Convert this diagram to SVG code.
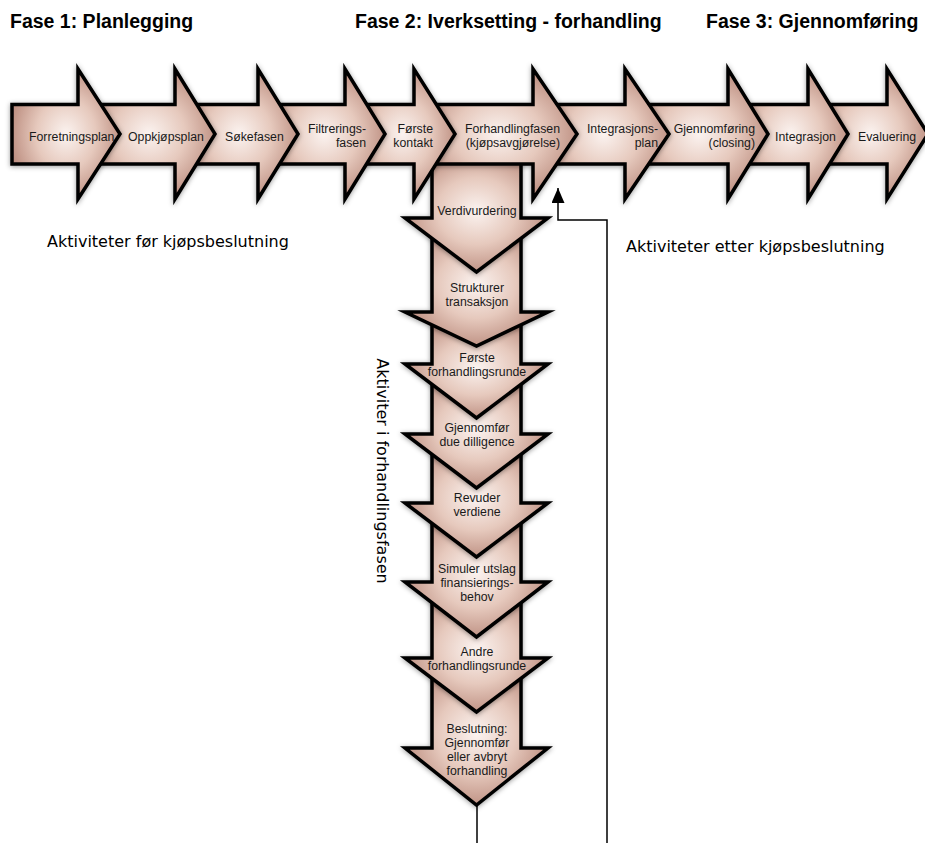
<svg xmlns="http://www.w3.org/2000/svg" width="925" height="843" viewBox="0 0 925 843">
  <defs>
    <radialGradient id="fillGrad" cx="0.5" cy="0.5" r="0.55">
      <stop offset="0" stop-color="#fbf3f0"/>
      <stop offset="0.5" stop-color="#e6c9bd"/>
      <stop offset="1" stop-color="#b8887a"/>
    </radialGradient>
    <filter id="glow" x="-10%" y="-10%" width="120%" height="120%">
      <feDropShadow dx="0" dy="1" stdDeviation="2.5" flood-color="#000" flood-opacity="0.4"/>
    </filter>
    <marker id="arrowUp" markerWidth="15" markerHeight="13" refX="15" refY="6.5" orient="auto" markerUnits="userSpaceOnUse">
      <path d="M0,0 L15,6.5 L0,13 Z" fill="#000"/>
    </marker>
  </defs>
  <style>
    .shape { fill: url(#fillGrad); stroke: #000; stroke-width: 3.5; stroke-linejoin: miter; stroke-miterlimit: 6; filter: url(#glow); }
    .lbl { font-family: "Liberation Sans", Arial, sans-serif; font-size: 12.3px; fill: #1a1a1a; }
    .mid { text-anchor: middle; }
    .end { text-anchor: end; }
    .phase { font-family: "Liberation Sans", Arial, sans-serif; font-size: 19.5px; font-weight: bold; fill: #000; }
    .note { font-family: "DejaVu Sans", "Lucida Grande", sans-serif; font-size: 16px; fill: #000; }
    .conn { fill: none; stroke: #000; stroke-width: 1.5; }
  </style>

  <rect width="925" height="843" fill="#fff"/>

  <!-- phase headings -->
  <text class="phase" x="10" y="28">Fase 1: Planlegging</text>
  <text class="phase" x="355" y="28">Fase 2: Iverksetting - forhandling</text>
  <text class="phase" x="706" y="28">Fase 3: Gjennomføring</text>

  <!-- side notes -->
  <text class="note" x="47" y="247">Aktiviteter før kjøpsbeslutning</text>
  <text class="note" x="626" y="252">Aktiviteter etter kjøpsbeslutning</text>
  <text class="note mid" transform="translate(377,471) rotate(90)">Aktiviter i forhandlingsfasen</text>

  <!-- vertical column: negotiation steps, drawn bottom-up so each head overlaps the next shaft -->
  <g id="beslutning">
    <path class="shape" d="M432,663 L521,663 L521,748 L548,748 L476.5,805 L405,748 L432,748 Z"/>
    <text class="lbl mid" x="477" y="733">Beslutning:</text>
    <text class="lbl mid" x="477" y="747">Gjennomfør</text>
    <text class="lbl mid" x="477" y="761">eller avbryt</text>
    <text class="lbl mid" x="477" y="775">forhandling</text>
  </g>
  <g id="andre-runde">
    <path class="shape" d="M432,587 L521,587 L521,658 L548,658 L476.5,712 L405,658 L432,658 Z"/>
    <text class="lbl mid" x="477" y="656">Andre</text>
    <text class="lbl mid" x="477" y="670">forhandlingsrunde</text>
  </g>
  <g id="simuler">
    <path class="shape" d="M432,508 L521,508 L521,582 L548,582 L476.5,637 L405,582 L432,582 Z"/>
    <text class="lbl mid" x="477" y="573">Simuler utslag</text>
    <text class="lbl mid" x="477" y="587">finansierings-</text>
    <text class="lbl mid" x="477" y="601">behov</text>
  </g>
  <g id="revuder">
    <path class="shape" d="M432,439 L521,439 L521,503 L548,503 L476.5,557 L405,503 L432,503 Z"/>
    <text class="lbl mid" x="477" y="502">Revuder</text>
    <text class="lbl mid" x="477" y="516">verdiene</text>
  </g>
  <g id="due-diligence">
    <path class="shape" d="M432,369 L521,369 L521,434 L548,434 L476.5,488 L405,434 L432,434 Z"/>
    <text class="lbl mid" x="477" y="432">Gjennomfør</text>
    <text class="lbl mid" x="477" y="446">due dilligence</text>
  </g>
  <g id="forste-runde">
    <path class="shape" d="M432,317 L521,317 L521,364 L548,364 L476.5,418 L405,364 L432,364 Z"/>
    <text class="lbl mid" x="477" y="362">Første</text>
    <text class="lbl mid" x="477" y="376">forhandlingsrunde</text>
  </g>
  <g id="strukturer">
    <path class="shape" d="M432,223 L521,223 L521,312 L548,312 L476.5,346 L405,312 L432,312 Z"/>
    <text class="lbl mid" x="477" y="292">Strukturer</text>
    <text class="lbl mid" x="477" y="306">transaksjon</text>
  </g>
  <g id="verdivurdering">
    <path class="shape" d="M432,150 L521,150 L521,218 L548,218 L476.5,272 L405,218 L432,218 Z"/>
    <text class="lbl mid" x="477" y="215">Verdivurdering</text>
  </g>

  <!-- horizontal process chain, drawn right to left so each head overlaps the next shaft -->
  <g id="evaluering">
    <path class="shape" d="M813,104.5 L887,104.5 L887,69 L928,134 L887,199 L887,164 L813,164 Z"/>
    <text class="lbl" x="858" y="141">Evaluering</text>
  </g>
  <g id="integrasjon">
    <path class="shape" d="M733,104.5 L808,104.5 L808,69 L848,134 L808,199 L808,164 L733,164 Z"/>
    <text class="lbl" x="775" y="141">Integrasjon</text>
  </g>
  <g id="closing">
    <path class="shape" d="M630,104.5 L728,104.5 L728,69 L768,134 L728,199 L728,164 L630,164 Z"/>
    <text class="lbl end" x="755" y="133">Gjennomføring</text>
    <text class="lbl end" x="755" y="147">(closing)</text>
  </g>
  <g id="integrasjonsplan">
    <path class="shape" d="M538,104.5 L625,104.5 L625,69 L669,134 L625,199 L625,164 L538,164 Z"/>
    <text class="lbl end" x="658" y="133">Integrasjons-</text>
    <text class="lbl end" x="658" y="147">plan</text>
  </g>
  <g id="forhandlingfasen">
    <path class="shape" d="M419,104.5 L533,104.5 L533,69 L577,134 L533,199 L533,164 L419,164 Z"/>
    <text class="lbl end" x="560" y="133">Forhandlingfasen</text>
    <text class="lbl end" x="560" y="147">(kjøpsavgjørelse)</text>
  </g>
  <g id="forste-kontakt">
    <path class="shape" d="M350,104.5 L414,104.5 L414,69 L455,134 L414,199 L414,164 L350,164 Z"/>
    <text class="lbl end" x="433" y="133">Første</text>
    <text class="lbl end" x="433" y="147">kontakt</text>
  </g>
  <g id="filtrering">
    <path class="shape" d="M263,104.5 L345,104.5 L345,69 L385,134 L345,199 L345,164 L263,164 Z"/>
    <text class="lbl end" x="366" y="133">Filtrerings-</text>
    <text class="lbl end" x="366" y="147">fasen</text>
  </g>
  <g id="sokefasen">
    <path class="shape" d="M180,104.5 L258,104.5 L258,69 L298,134 L258,199 L258,164 L180,164 Z"/>
    <text class="lbl" x="225" y="141">Søkefasen</text>
  </g>
  <g id="oppkjopsplan">
    <path class="shape" d="M83,104.5 L175,104.5 L175,69 L215,134 L175,199 L175,164 L83,164 Z"/>
    <text class="lbl" x="128" y="141">Oppkjøpsplan</text>
  </g>
  <g id="forretningsplan">
    <path class="shape" d="M12,104.5 L78,104.5 L78,69 L120,134 L78,199 L78,164 L12,164 Z"/>
    <text class="lbl" x="29" y="141">Forretningsplan</text>
  </g>

  <!-- connectors -->
  <g id="connectors">
    <line class="conn" x1="477" y1="806" x2="477" y2="843"/>
    <polyline class="conn" points="607,843 607,220 558,220 558,188" marker-end="url(#arrowUp)"/>
  </g>
</svg>
